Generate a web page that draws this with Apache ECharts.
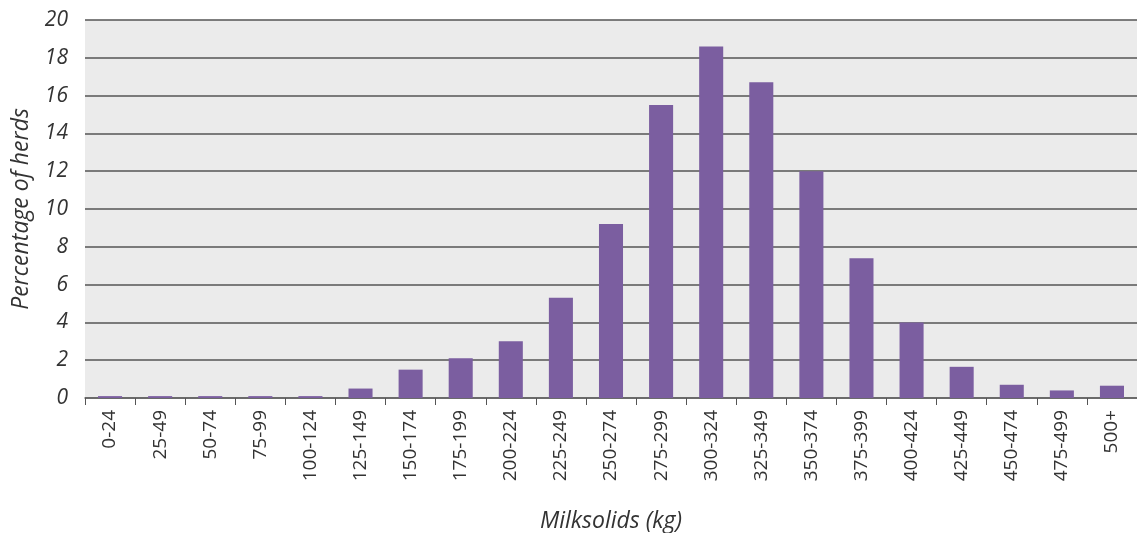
<!DOCTYPE html>
<html>
<head>
<meta charset="utf-8">
<script src="https://cdn.jsdelivr.net/npm/echarts@6/dist/echarts.min.js"></script>
<style>html,body{margin:0;padding:0;background:#fff;}#c{width:1137px;height:533px;}</style>
</head>
<body>
<div id="c"></div>
<script>
const categories = ['0-24','25-49','50-74','75-99','100-124','125-149','150-174','175-199','200-224','225-249','250-274','275-299','300-324','325-349','350-374','375-399','400-424','425-449','450-474','475-499','500+'];
const values = [0.1,0.1,0.1,0.1,0.1,0.5,1.5,2.1,3.0,5.3,9.2,15.5,18.6,16.7,12.0,7.4,4.0,1.65,0.7,0.4,0.65];
const yTicks = [0,2,4,6,8,10,12,14,16,18,20];

const chart = echarts.init(document.getElementById('c'));
chart.setOption({
  animation: false,
  grid: {left: 85, right: 0, top: 20, bottom: 135, show: true, backgroundColor: '#ebebeb', borderWidth: 0, containLabel: false, outerBoundsMode: 'none'},
  xAxis: {
    type: 'category',
    data: categories,
    name: 'Milksolids (kg)',
    nameLocation: 'middle',
    nameGap: 112,
    nameTextStyle: {fontFamily: 'Open Sans', fontStyle: 'italic', fontSize: 23, color: '#333'},
    axisLine: {lineStyle: {color: '#666', width: 1.5}},
    axisTick: {show: true, alignWithLabel: false, length: 7, lineStyle: {color: '#555'}},
    axisLabel: {rotate: 90, fontFamily: 'Open Sans', fontSize: 19, color: '#333', margin: 12, interval: 0}
  },
  yAxis: {
    type: 'value',
    min: 0, max: 20, interval: 2,
    name: 'Percentage of herds',
    nameLocation: 'middle',
    nameGap: 52,
    nameTextStyle: {fontFamily: 'Open Sans', fontStyle: 'italic', fontSize: 23, color: '#333'},
    axisLine: {show: false},
    axisTick: {show: false},
    axisLabel: {fontFamily: 'Open Sans', fontStyle: 'italic', fontSize: 21, color: '#333', margin: 17,
      formatter: v => yTicks.includes(v) ? String(v) : ''},
    splitLine: {lineStyle: {color: '#555', width: 1.5}}
  },
  series: [{
    type: 'bar',
    data: values,
    barWidth: '48%',
    itemStyle: {color: '#7b5ea0'}
  }]
});
</script>
</body>
</html>
